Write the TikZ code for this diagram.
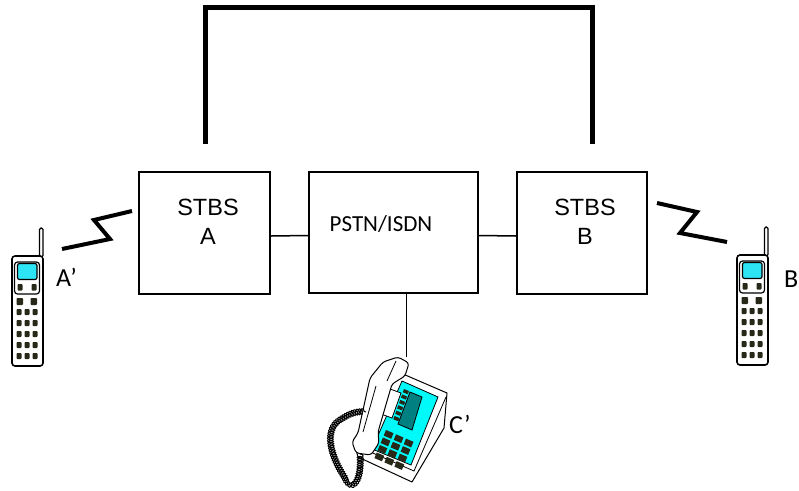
\documentclass[tikz,border=0pt]{standalone}
\usepackage{fontspec}
\setmainfont{Liberation Sans}
\newfontfamily\carl{Carlito}
\usetikzlibrary{decorations.pathmorphing,calc}

\definecolor{lcdcyan}{RGB}{45,228,245}
\definecolor{keydark}{RGB}{40,40,25}
\definecolor{panelcyan}{RGB}{0,250,250}
\definecolor{displayteal}{RGB}{0,128,128}

\tikzset{
  unit/.style={draw, line width=2, fill=white, rectangle, inner sep=0},
  wire/.style={line width=1.5},
  trunk/.style={line width=5, line join=miter, line cap=butt},
  radio/.style={line width=4, line join=miter},
  boxtext/.style={font=\fontsize{23.5}{29}\selectfont, align=center, inner sep=0},
  tag/.style={font=\carl\fontsize{26}{30}\selectfont, inner sep=0, anchor=base west},
  key/.style={fill=keydark, rounded corners=0.8},
}

% cordless handset, origin at the top left corner of its body
\newcommand\handyset[1]{%
  \begin{scope}[shift={#1}]
    \draw[line width=1.2, fill=white, rounded corners=1.5] (27.5,-28) rectangle (31,1);
    \draw[line width=1.6, fill=white, rounded corners=3] (0,0) rectangle (31,110);
    \draw[line width=1.2, rounded corners=3] (2.5,6) rectangle (27.5,38);
    \draw[line width=1.2, fill=lcdcyan, rounded corners=2] (5.5,7.5) rectangle (25,23.5);
    \foreach \x in {5.5,19.5} \fill[key] (\x,28) rectangle ++(5,6.5);
    \foreach \x in {4.5,18.5} \fill[key] (\x,42) rectangle ++(6.5,7);
    \foreach \y in {53,64,75,86,97}
      \foreach \x in {4.5,12.5,20.5} \fill[key] (\x,\y) rectangle ++(5,6);
  \end{scope}}

\begin{document}
\begin{tikzpicture}[x=1pt,y=-1pt]
  \useasboundingbox (0,0) rectangle (799,490);
  \fill[white] (0,0) rectangle (799,490);

  % network units
  \node[unit, minimum width=131, minimum height=122] (stbsA) at (204.5,233) {};
  \node[unit, minimum width=169, minimum height=121] (pstn) at (393.5,232.5) {};
  \node[unit, minimum width=130, minimum height=122] (stbsB) at (582,233) {};

  \node[boxtext, anchor=base] (lblA) at (208,244.5) {STBS\\A};
  \node[boxtext, anchor=base] (lblB) at (585,244.5) {STBS\\B};
  \node[font=\carl\fontsize{23}{27}\selectfont, inner sep=0, anchor=base] (lblP) at (381,231) {PSTN/ISDN};

  % links between the units
  \draw[wire] ([yshift=-3pt]stbsA.east) -- ([yshift=-3pt]pstn.west);
  \draw[wire] ([yshift=-3pt]pstn.east) -- ([yshift=-3pt]stbsB.west);
  \coordinate (desktop) at (406.5,357);
  \draw[wire] (pstn.south -| desktop) -- (desktop);

  % direct trunk between the two base stations
  \coordinate (trA) at (205,144);
  \coordinate (trB) at (592,144);
  \coordinate (trTop) at (400,7.5);
  \draw[trunk] (trA) |- (trTop) -| (trB);

  % radio links
  \coordinate (rA0) at (62,249);
  \coordinate (rA1) at (110,239);
  \coordinate (rA2) at (94,220);
  \coordinate (rA3) at (132,211);
  \draw[radio] (rA0) -- (rA1) -- (rA2) -- (rA3);
  \coordinate (rB0) at (657,203);
  \coordinate (rB1) at (697,212);
  \coordinate (rB2) at (680,233);
  \coordinate (rB3) at (727,242);
  \draw[radio] (rB0) -- (rB1) -- (rB2) -- (rB3);

  % cordless handsets
  \handyset{(12,256)}
  \handyset{(737,255)}
  \node[tag] (tagA) at (56,286) {A’};
  \node[tag] (tagB) at (784,287) {B};

  % desk telephone
  \draw[line width=1, fill=white, line join=round]
    (396,371) -- (447,393) -- (444,428) -- (412,482) -- (358,457) -- (355,446) -- cycle;
  \draw[line width=0.8] (446,397) -- (414,471) -- (359,447);
  \draw[line width=0.8, fill=panelcyan] (402,381) -- (438,397) -- (411,465) -- (372,449) -- cycle;
  \draw[line width=0.8, fill=displayteal] (410,392) -- (422,397) -- (412,430) -- (398,424) -- cycle;
  \foreach \t in {0,...,5}
    \fill[keydark] ($(404,389)+\t*(-1.9,5.4)$) -- ++(5,2) -- ++(-1.2,3.3) -- ++(-5,-2) -- cycle;
  \foreach \i in {0,1,2}
    \foreach \j in {0,1,2,3}
      \fill[keydark] ($(386,430)+\i*(10,4.3)+\j*(-3.1,7.5)$) -- ++(7.5,3.2) -- ++(-2.3,5.6) -- ++(-7.5,-3.2) -- cycle;
  \draw[line width=0.8, fill=white] (390,389) -- (401,393) -- (392,418) -- (381,414) -- cycle;
  % handset and its coiled cord
  \draw[line width=1, fill=white, rounded corners=3, line join=round]
    (370,378) -- (383,362) -- (398,357) -- (409,363) -- (405,376) -- (392,384)
    -- (378,432) -- (379,443) -- (371,455) -- (356,453) -- (352,442) -- (358,433) -- cycle;
  \draw[line width=0.8] (376,386) -- (363,432);
  \draw[line width=0.8] (396,361) -- (387,381);
  \draw[line width=1, decorate, decoration={coil, amplitude=3, segment length=2.4}]
    (360,454) .. controls (362,482) and (352,492) .. (345,478)
    .. controls (330,455) and (324,430) .. (340,420)
    .. controls (350,413) and (358,411) .. (366,412);
  \node[tag] (tagC) at (449,433) {C’};
\end{tikzpicture}
\end{document}
